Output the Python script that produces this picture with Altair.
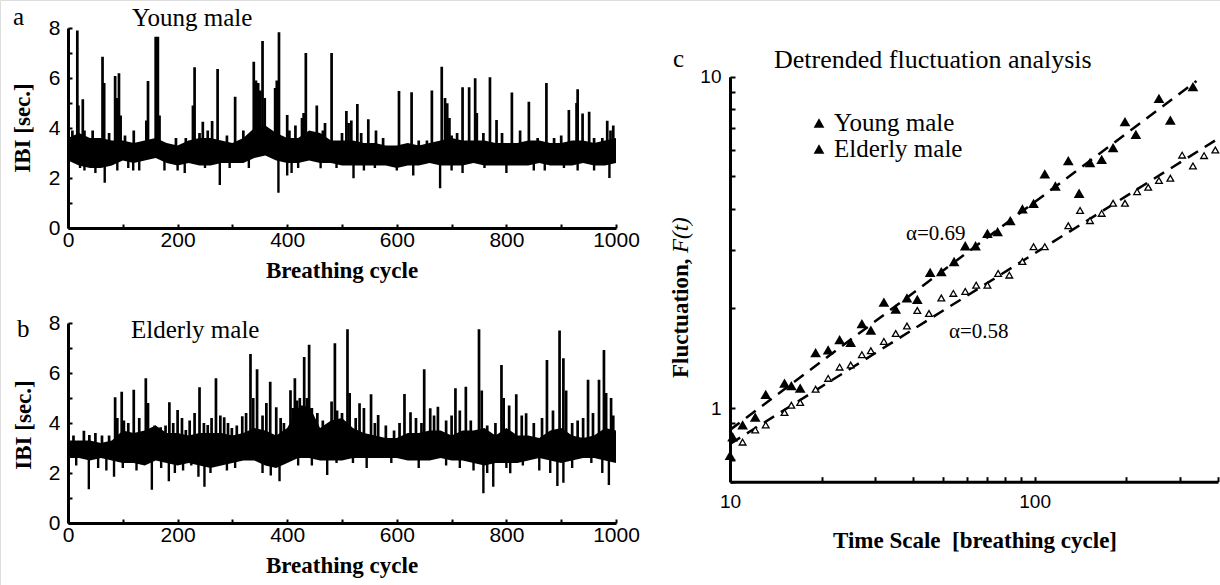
import altair as alt
import pandas as pd

W, H = 1220, 585
SERIF = "Liberation Serif"
SANS = "Liberation Sans"

# ---------------- panel a / b : inter-breath intervals ----------------
band_cycle = list(range(0, 1001, 20))

young_band_lo = [2.7, 2.5, 2.4, 2.4, 2.5, 2.7, 2.6, 2.7, 2.8, 2.6,
                 2.5, 2.6, 2.5, 2.5, 2.6, 2.6, 2.6, 2.8, 2.9, 2.7,
                 2.6, 2.6, 2.7, 2.6, 2.6, 2.5, 2.5, 2.5, 2.5, 2.5,
                 2.4, 2.5, 2.5, 2.6, 2.5, 2.5, 2.5, 2.6, 2.5, 2.5,
                 2.5, 2.5, 2.5, 2.6, 2.5, 2.5, 2.5, 2.6, 2.5, 2.5,
                 2.6]
young_band_hi = [3.6, 3.8, 3.6, 3.6, 3.5, 3.5, 3.4, 3.5, 3.6, 3.4,
                 3.3, 3.5, 3.6, 3.6, 3.5, 3.4, 3.6, 4.0, 4.1, 3.8,
                 3.6, 3.6, 3.9, 3.8, 3.5, 3.5, 3.5, 3.4, 3.4, 3.3,
                 3.3, 3.4, 3.3, 3.4, 3.5, 3.6, 3.5, 3.5, 3.5, 3.4,
                 3.4, 3.4, 3.5, 3.5, 3.4, 3.4, 3.5, 3.5, 3.4, 3.5,
                 3.6]
young_spikes = [(8, 3.9), (17, 7.9), (19, 4.9), (27, 5.15), (30, 3.9), (45, 3.9),
                (63, 6.85), (66, 5.8), (75, 3.8), (86, 6.08), (90, 5.2), (93, 6.19),
                (96, 4.5), (104, 3.7), (120, 3.9), (143, 4.3), (146, 5.88), (160, 7.65),
                (164, 7.65), (167, 4.5), (197, 3.6), (215, 3.6), (228, 4.9), (231, 6.43),
                (240, 3.8), (246, 4.25), (255, 3.9), (263, 4.28), (273, 6.36), (290, 3.7),
                (305, 5.25), (320, 3.9), (339, 6.65), (343, 5.9), (347, 5.8), (351, 5.5),
                (355, 7.48), (359, 5.2), (378, 5.6), (381, 5.9), (385, 7.83), (400, 4.52),
                (404, 3.9), (415, 4.1), (427, 4.4), (430, 4.6), (434, 7.0), (454, 4.9),
                (465, 3.9), (469, 4.2), (481, 7.0), (500, 3.8), (508, 4.68), (512, 4.2),
                (517, 4.3), (528, 4.96), (535, 3.8), (548, 4.35), (562, 3.9), (575, 3.6),
                (604, 5.48), (627, 5.43), (640, 3.5), (655, 3.5), (664, 5.5), (682, 6.45),
                (688, 5.2), (692, 4.99), (696, 4.4), (700, 3.7), (710, 3.8), (720, 5.63),
                (732, 5.63), (743, 5.99), (746, 4.6), (758, 3.8), (770, 6.03), (782, 4.32),
                (792, 3.8), (810, 5.42), (825, 3.9), (841, 5.05), (857, 3.6), (873, 5.8),
                (887, 3.6), (900, 3.7), (914, 4.72), (928, 5.0), (930, 5.55), (939, 4.58),
                (951, 4.65), (960, 3.6), (975, 3.6), (984, 4.29), (990, 3.9), (995, 4.1)]
young_dips = [(22, 2.4), (30, 2.3), (50, 2.2), (67, 1.81), (90, 2.3), (110, 2.4),
              (119, 2.3), (130, 2.3), (176, 2.3), (200, 2.3), (213, 2.2), (250, 2.4),
              (277, 1.72), (295, 2.4), (330, 2.4), (384, 1.41), (400, 2.1), (408, 2.2),
              (420, 2.4), (461, 2.39), (490, 2.4), (521, 1.99), (540, 2.3), (560, 2.4),
              (600, 2.3), (630, 2.1), (679, 1.59), (700, 2.3), (720, 2.2), (760, 2.4),
              (800, 2.2), (850, 2.3), (870, 2.3), (905, 2.4), (930, 2.3), (960, 2.3),
              (988, 2.0)]

elder_band_lo = [2.6, 2.6, 2.5, 2.6, 2.5, 2.4, 2.4, 2.3, 2.5, 2.4,
                 2.3, 2.4, 2.3, 2.2, 2.3, 2.4, 2.5, 2.5, 2.3, 2.2,
                 2.4, 2.6, 2.6, 2.5, 2.5, 2.5, 2.6, 2.6, 2.6, 2.6,
                 2.6, 2.5, 2.5, 2.5, 2.6, 2.5, 2.5, 2.4, 2.3, 2.4,
                 2.4, 2.4, 2.5, 2.6, 2.5, 2.4, 2.5, 2.6, 2.6, 2.5,
                 2.4]
elder_band_hi = [3.3, 3.3, 3.3, 3.2, 3.3, 3.7, 3.6, 3.7, 3.9, 3.6,
                 3.6, 3.5, 3.6, 3.6, 3.6, 3.5, 3.6, 3.8, 3.7, 3.5,
                 3.8, 4.6, 4.7, 3.8, 4.1, 4.2, 3.8, 3.6, 3.5, 3.4,
                 3.4, 3.6, 3.6, 3.7, 3.7, 3.5, 3.7, 3.7, 3.8, 3.5,
                 3.8, 3.5, 3.5, 3.4, 3.7, 3.8, 3.5, 3.4, 3.5, 3.8,
                 3.7]
elder_spikes = [(10, 3.5), (29, 3.69), (39, 3.52), (50, 3.6), (62, 3.5), (75, 3.5),
                (86, 5.03), (90, 4.2), (98, 5.25), (102, 4.1), (110, 4.0), (120, 5.33),
                (130, 4.2), (142, 5.79), (146, 4.8), (158, 3.9), (169, 3.83), (178, 3.9),
                (185, 4.83), (192, 4.0), (200, 4.52), (208, 4.2), (215, 3.72), (222, 4.1),
                (231, 4.4), (240, 5.43), (248, 4.0), (255, 3.92), (262, 4.2), (270, 5.79),
                (278, 4.3), (285, 4.23), (292, 4.0), (299, 3.8), (308, 3.9), (318, 4.27),
                (325, 4.4), (333, 6.76), (338, 5.0), (345, 6.15), (355, 4.3), (362, 4.8),
                (369, 5.65), (380, 4.63), (388, 4.2), (394, 4.0), (406, 5.31), (410, 4.6),
                (414, 5.79), (418, 4.9), (423, 5.0), (427, 4.7), (431, 6.64), (436, 5.0),
                (440, 7.13), (445, 4.6), (455, 4.4), (465, 4.1), (481, 4.86), (487, 7.19),
                (491, 4.5), (500, 4.4), (510, 7.75), (514, 5.2), (525, 4.2), (532, 4.79),
                (540, 4.6), (553, 5.15), (560, 4.0), (566, 4.32), (580, 3.9), (595, 3.7),
                (605, 4.0), (614, 5.16), (625, 4.43), (635, 4.2), (645, 4.0), (650, 6.15),
                (661, 4.59), (668, 4.3), (675, 4.65), (690, 4.1), (700, 4.3), (707, 5.39),
                (715, 4.5), (726, 5.45), (735, 4.1), (750, 7.75), (755, 5.3), (765, 3.9),
                (780, 4.0), (791, 6.32), (795, 5.0), (805, 4.7), (818, 5.15), (828, 4.3),
                (836, 4.39), (850, 4.0), (865, 4.2), (874, 6.52), (885, 4.5), (897, 7.7),
                (904, 6.59), (909, 5.3), (920, 4.0), (930, 4.1), (940, 4.2), (949, 5.73),
                (958, 4.4), (969, 5.73), (978, 6.92), (982, 5.2), (991, 5.0), (995, 4.3)]
elder_dips = [(15, 2.3), (38, 1.35), (55, 2.2), (70, 2.1), (84, 1.85), (100, 2.2),
              (125, 2.1), (153, 1.33), (170, 2.2), (184, 1.67), (195, 2.0), (210, 2.1),
              (225, 2.3), (238, 1.85), (249, 1.45), (260, 2.0), (290, 2.1), (305, 2.2),
              (355, 2.0), (370, 1.9), (386, 1.67), (420, 2.3), (445, 2.3), (473, 1.92),
              (490, 2.4), (520, 2.4), (545, 2.2), (590, 2.4), (640, 2.2), (690, 2.3),
              (715, 2.2), (740, 2.1), (758, 1.19), (765, 2.0), (776, 1.45), (800, 2.2),
              (807, 1.99), (830, 2.3), (860, 2.1), (880, 2.0), (893, 1.48), (904, 1.61),
              (920, 2.2), (955, 2.4), (975, 2.0), (987, 1.52)]

# ---------------- panel c : DFA ----------------
dfa_young_n = [10, 10.2, 11.0, 12.1, 13.1, 15.1, 15.9, 17.0, 19.1, 21.0,
               22.9, 24.9, 27.1, 29.0, 32.0, 35.0, 38.1, 41.2, 45.4, 49.4,
               54.4, 59.2, 64.0, 70.0, 75.6, 83.2, 91.2, 99.2, 108, 117,
               129, 140, 152, 166, 181, 198, 215, 256, 279, 331]
dfa_young_f = [0.72, 0.82, 0.89, 0.94, 1.10, 1.19, 1.17, 1.15, 1.47, 1.50,
               1.61, 1.58, 1.80, 1.72, 2.09, 1.99, 2.15, 2.13, 2.57, 2.58,
               2.77, 3.09, 3.09, 3.37, 3.41, 3.68, 3.99, 4.15, 5.09, 4.68,
               5.58, 4.45, 5.51, 5.63, 6.11, 7.32, 6.70, 8.60, 7.40, 9.33]
dfa_elder_n = [11.0, 12.1, 13.1, 15.1, 15.9, 17.0, 19.1, 21.0, 22.9, 24.9,
               27.1, 29.0, 32.0, 35.0, 38.1, 41.2, 45.0, 49.4, 54.1, 59.2,
               64.3, 70.0, 75.9, 82.6, 91.2, 99.2, 108, 129, 141, 152,
               166, 181, 198, 217, 236, 256, 279, 305, 331, 360, 392]
dfa_elder_f = [0.79, 0.86, 0.89, 0.97, 1.02, 1.04, 1.14, 1.23, 1.33, 1.35,
               1.45, 1.49, 1.59, 1.68, 1.77, 1.97, 1.93, 2.15, 2.22, 2.25,
               2.35, 2.35, 2.55, 2.52, 2.77, 3.07, 3.07, 3.55, 3.95, 3.68,
               3.87, 4.15, 4.15, 4.50, 4.64, 4.86, 4.94, 5.80, 5.38, 5.78, 6.01]
fit_young = [(10, 0.86), (340, 9.7)]
fit_elder = [(10, 0.78), (400, 6.5)]

# ---------------- helpers ----------------
def lin(domain, rng):
    return alt.Scale(domain=domain, range=rng, nice=False, zero=False)

def logs(domain, rng):
    return alt.Scale(type="log", domain=domain, range=rng, nice=False)

def label_axis(orient, offset, values, fs=21, pad=0, fmt="d"):
    return alt.Axis(orient=orient, offset=offset, values=values, ticks=False, tickSize=0,
                    domain=True, domainColor="black", domainWidth=3, labelFont=SANS,
                    labelFontSize=fs, labelColor="black", labelPadding=pad, title=None,
                    grid=False, labelFlush=False, labelOverlap=False, format=fmt)

def tick_axis(orient, offset, values, size=4):
    return alt.Axis(orient=orient, offset=offset, values=values, ticks=True, tickSize=size,
                    tickWidth=2, tickColor="black", labels=False, domain=False,
                    title=None, grid=False)

def pairs(lst, a, b):
    return pd.DataFrame(lst, columns=[a, b])

layers = []

def ts_panel(lo, hi, spikes, dips, y_top, y_bottom):
    xs = lin([0, 1000], [68, 616])
    ys = lin([0, 8], [y_bottom, y_top])
    band = pd.DataFrame({"cycle": band_cycle, "lo": lo, "hi": hi})
    layers.append(alt.Chart(band).mark_area(color="black", opacity=1, strokeWidth=0).encode(
        x=alt.X("cycle:Q", scale=xs,
                axis=label_axis("bottom", y_bottom - H, list(range(0, 1001, 200)), pad=1)),
        y=alt.Y("lo:Q", scale=ys,
                axis=label_axis("left", -68, [0, 2, 4, 6, 8], pad=8)),
        y2="hi:Q"))
    layers.append(alt.Chart(pairs(spikes, "cycle", "ibi")).mark_rule(
        color="black", strokeWidth=2.7).encode(
        x=alt.X("cycle:Q", scale=xs,
                axis=tick_axis("top", -y_bottom, list(range(0, 1001, 100)))),
        y=alt.Y("ibi:Q", scale=ys,
                axis=tick_axis("right", 68 - W, list(range(0, 9)))),
        y2=alt.datum(3.0)))
    layers.append(alt.Chart(pairs(dips, "cycle", "ibi")).mark_rule(
        color="black", strokeWidth=2.4).encode(
        x=alt.X("cycle:Q", scale=xs, axis=None),
        y=alt.Y("ibi:Q", scale=ys, axis=None),
        y2=alt.datum(3.0)))

ts_panel(young_band_lo, young_band_hi, young_spikes, young_dips, 28, 228)
ts_panel(elder_band_lo, elder_band_hi, elder_spikes, elder_dips, 323, 523)

# panel c
CX = ([10, 400], [730, 1218])
CY_BOT, CY_TOP = 481.7, 76.7
fits = pd.concat([pairs(fit_young, "n", "f").assign(s="young"),
                  pairs(fit_elder, "n", "f").assign(s="elder")])
layers.append(alt.Chart(fits).mark_line(color="black", strokeWidth=2.5,
                                         strokeDash=[12, 8]).encode(
    x=alt.X("n:Q", scale=logs(*CX), axis=None),
    y=alt.Y("f:Q", scale=logs([0.6, 10], [CY_BOT, CY_TOP]), axis=None),
    detail="s:N"))
layers.append(alt.Chart(pd.DataFrame({"n": dfa_young_n, "f": dfa_young_f})).mark_point(
    shape="triangle-up", filled=True, color="black", size=115, opacity=1).encode(
    x=alt.X("n:Q", scale=logs(*CX),
            axis=label_axis("bottom", CY_BOT - H, [10, 100], fs=19, pad=11)),
    y=alt.Y("f:Q", scale=logs([0.6, 10], [CY_BOT, CY_TOP]),
            axis=label_axis("left", -730, [1, 10], fs=19, pad=9))))
layers.append(alt.Chart(pd.DataFrame({"n": dfa_elder_n, "f": dfa_elder_f})).mark_point(
    shape="triangle-up", fill="white", fillOpacity=1, stroke="black", strokeWidth=1.3,
    size=45, opacity=1).encode(
    x=alt.X("n:Q", scale=logs(*CX),
            axis=tick_axis("top", -CY_BOT,
                           [10, 20, 30, 40, 50, 60, 70, 80, 90, 100, 200, 300, 400], size=5)),
    y=alt.Y("f:Q", scale=logs([0.6, 10], [CY_BOT, CY_TOP]),
            axis=tick_axis("right", 730 - W,
                           [0.6, 0.7, 0.8, 0.9, 1, 2, 3, 4, 5, 6, 7, 8, 9, 10], size=5))))

# ---------------- texts ----------------
reg_text = pd.DataFrame([
    ("a", 13, 25, 25), ("Young male", 132, 26, 25),
    ("b", 17, 337, 25), ("Elderly male", 131, 338, 25),
    ("c", 673, 67, 25), ("Detrended fluctuation analysis", 774, 68, 26),
    ("Young male", 834, 131, 25), ("Elderly male", 834, 157, 25),
    ("α=0.69", 906, 240, 21), ("α=0.58", 949, 338, 21),
], columns=["t", "px", "py", "fs"])
layers.append(alt.Chart(reg_text).mark_text(font=SERIF, align="left", baseline="alphabetic",
                                            color="black").encode(
    x=alt.X("px:Q", scale=None, axis=None), y=alt.Y("py:Q", scale=None, axis=None),
    size=alt.Size("fs:Q", scale=None, legend=None), text="t:N"))

legend_pts = pd.DataFrame({"px": [819, 819], "py": [123, 149]})
layers.append(alt.Chart(legend_pts).mark_point(shape="triangle-up", filled=True, color="black",
                                               size=115, opacity=1).encode(
    x=alt.X("px:Q", scale=None, axis=None), y=alt.Y("py:Q", scale=None, axis=None)))

bold_h = pd.DataFrame([
    ("Breathing cycle", 342, 278), ("Breathing cycle", 342, 573),
    ("Time Scale\u00a0\u00a0[breathing cycle]", 975, 548),
], columns=["t", "px", "py"])
layers.append(alt.Chart(bold_h).mark_text(font=SERIF, fontWeight="bold", fontSize=23,
                                          align="center", baseline="alphabetic",
                                          color="black").encode(
    x=alt.X("px:Q", scale=None, axis=None), y=alt.Y("py:Q", scale=None, axis=None),
    text="t:N"))

bold_v = pd.DataFrame([
    ("IBI [sec.]", 23, 128), ("IBI [sec.]", 24, 425),
], columns=["t", "px", "py"])
layers.append(alt.Chart(bold_v).mark_text(font=SERIF, fontWeight="bold", fontSize=23,
                                          align="center", baseline="middle", angle=270,
                                          color="black").encode(
    x=alt.X("px:Q", scale=None, axis=None), y=alt.Y("py:Q", scale=None, axis=None),
    text="t:N"))

# y title of panel c: bold upright part + italic F(t), drawn as one rotated run
fl_a = pd.DataFrame({"t": ["Fluctuation,"], "px": [681], "py": [378]})
fl_b = pd.DataFrame({"t": ["F(t)"], "px": [681], "py": [253]})
layers.append(alt.Chart(fl_a).mark_text(font=SERIF, fontWeight="bold", fontSize=23,
                                        align="left", baseline="middle", angle=270,
                                        color="black").encode(
    x=alt.X("px:Q", scale=None, axis=None), y=alt.Y("py:Q", scale=None, axis=None),
    text="t:N"))
layers.append(alt.Chart(fl_b).mark_text(font=SERIF, fontStyle="italic", fontSize=23,
                                        align="left", baseline="middle", angle=270,
                                        color="black").encode(
    x=alt.X("px:Q", scale=None, axis=None), y=alt.Y("py:Q", scale=None, axis=None),
    text="t:N"))

chart = alt.layer(*layers).resolve_scale(
    x="independent", y="independent", size="independent"
).resolve_axis(x="independent", y="independent").properties(
    width=W, height=H, padding=0, autosize=alt.AutoSizeParams(type="none")
).configure_view(stroke=None).configure(background="white")

chart.save("out.html", embed_options={"renderer": "svg", "actions": False})
